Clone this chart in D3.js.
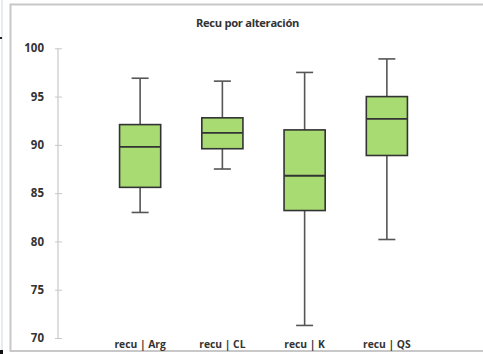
<!DOCTYPE html>
<html>
<head>
<meta charset="utf-8">
<script src="https://cdn.jsdelivr.net/npm/d3@7"></script>
<style>
  html, body { margin: 0; padding: 0; background: #fff; }
  svg { display: block; }
</style>
</head>
<body>
<svg id="chart" width="483" height="354"></svg>
<script>
// Box-plot statistics per alteration group
const categories = ["recu | Arg", "recu | CL", "recu | K", "recu | QS"];
const whiskerLow = [83.0, 87.5, 71.3, 80.2];
const q1 = [85.6, 89.6, 83.2, 88.9];
const median = [89.8, 91.25, 86.8, 92.7];
const q3 = [92.1, 92.8, 91.55, 95.0];
const whiskerHigh = [96.9, 96.6, 97.5, 98.9];
const yTicks = [70, 75, 80, 85, 90, 95, 100];
const title = "Recu por alteración";

const rows = categories.map((c, i) => ({
  cat: c, lo: whiskerLow[i], q1: q1[i], med: median[i], q3: q3[i], hi: whiskerHigh[i]
}));

const svg = d3.select("#chart");

// Outer frame and left edge strip
svg.append("line").attr("x1", 2).attr("x2", 2).attr("y1", 0).attr("y2", 354)
  .attr("stroke", "#dfe6ee").attr("stroke-width", 1.5);
svg.append("rect").attr("x", 0).attr("y", 37).attr("width", 2).attr("height", 2).attr("fill", "#222");
svg.append("rect").attr("x", 0).attr("y", 350).attr("width", 3).attr("height", 4).attr("fill", "#111");
svg.append("rect")
  .attr("x", 10.5).attr("y", 4.5).attr("width", 480).attr("height", 346.5)
  .attr("fill", "#fff").attr("stroke", "#c8c8c8").attr("stroke-width", 2);

const y = d3.scaleLinear().domain([70, 100]).range([338, 48.3]);
const x = d3.scaleBand().domain(categories).range([99, 428])
  .paddingInner(0.5).paddingOuter(0.25);

// Title
svg.append("text")
  .attr("x", 247.5).attr("y", 27)
  .attr("text-anchor", "middle")
  .attr("font-family", "'Open Sans', 'Noto Sans', sans-serif")
  .attr("font-weight", "bold").attr("font-size", 11.2)
  .attr("letter-spacing", -0.3)
  .attr("fill", "#333")
  .text(title);

// Y axis
const yAxis = svg.append("g")
  .attr("transform", "translate(58,0)")
  .call(d3.axisLeft(y).tickValues(yTicks).tickSize(4).tickPadding(10).tickSizeOuter(0));
yAxis.select(".domain").attr("stroke", "#c8c8c8").attr("stroke-width", 1.2)
  .attr("d", `M0,${y(100)}V${y(70)}`);
yAxis.selectAll(".tick line").attr("stroke", "#c8c8c8").attr("x1", 4).attr("x2", -3);
yAxis.selectAll(".tick text")
  .attr("font-family", "'Open Sans', 'Noto Sans', sans-serif")
  .attr("font-weight", "bold").attr("font-size", 11.5)
  .attr("fill", "#333");

// Category labels
svg.append("g").selectAll("text").data(categories).join("text")
  .attr("x", d => x(d) + x.bandwidth() / 2)
  .attr("y", 348)
  .attr("text-anchor", "middle")
  .attr("font-family", "'Open Sans', 'Noto Sans', sans-serif")
  .attr("font-weight", "bold").attr("font-size", 10.3)
  .attr("fill", "#333")
  .text(d => d);

// Boxes
const capW = 17;
const g = svg.append("g").selectAll("g").data(rows).join("g")
  .attr("transform", d => `translate(${x(d.cat)},0)`);

const cx = x.bandwidth() / 2;
g.append("line")
  .attr("x1", cx).attr("x2", cx)
  .attr("y1", d => y(d.hi)).attr("y2", d => y(d.lo))
  .attr("stroke", "#555").attr("stroke-width", 1.6);
g.append("line").attr("x1", cx - capW / 2).attr("x2", cx + capW / 2)
  .attr("y1", d => y(d.hi)).attr("y2", d => y(d.hi))
  .attr("stroke", "#555").attr("stroke-width", 1.6);
g.append("line").attr("x1", cx - capW / 2).attr("x2", cx + capW / 2)
  .attr("y1", d => y(d.lo)).attr("y2", d => y(d.lo))
  .attr("stroke", "#555").attr("stroke-width", 1.6);
g.append("rect")
  .attr("x", 0).attr("width", x.bandwidth())
  .attr("y", d => y(d.q3)).attr("height", d => y(d.q1) - y(d.q3))
  .attr("fill", "#a8dc72").attr("stroke", "#333").attr("stroke-width", 1.6);
g.append("line").attr("x1", 0).attr("x2", x.bandwidth())
  .attr("y1", d => y(d.med)).attr("y2", d => y(d.med))
  .attr("stroke", "#333").attr("stroke-width", 1.8);
</script>
</body>
</html>
